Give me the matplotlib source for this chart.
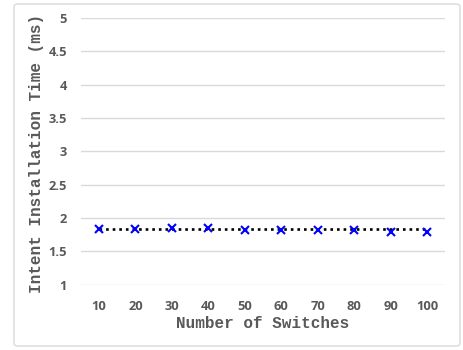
import matplotlib
matplotlib.use("Agg")
import matplotlib.pyplot as plt
from matplotlib.patches import FancyBboxPatch
import numpy as np

# switch counts and measured intent installation time (ms)
switches = ['10', '20', '30', '40', '50', '60', '70', '80', '90', '100']
install_ms = [1.84, 1.84, 1.855, 1.855, 1.825, 1.825, 1.825, 1.825, 1.795, 1.795]
y_ticks = [1, 1.5, 2, 2.5, 3, 3.5, 4, 4.5, 5]

fig = plt.figure(figsize=(4.63, 3.5), dpi=100)
fig.patch.set_facecolor('white')

# light rounded frame around the whole chart
frame = FancyBboxPatch((14 / 463, 4 / 350), 446 / 463, 342 / 350,
                       boxstyle='round,pad=0,rounding_size=0.008',
                       transform=fig.transFigure, facecolor='none',
                       edgecolor='#d9d9d9', linewidth=1.0, zorder=-5)
fig.patches.append(frame)

ax = fig.add_axes([80.7 / 463, 1 - 284.5 / 350, 364.5 / 463, 266.5 / 350])
ax.set_facecolor('none')
ax.set_zorder(2)

x = np.arange(len(switches))
ax.plot(x, install_ms, linestyle='none', marker='x', color='#0000ff',
        markersize=6, markeredgewidth=1.5, zorder=3)

# flat trend line at the mean time
mean_ms = np.mean(install_ms)
ax.plot([x[0], x[-1]], [mean_ms, mean_ms], linestyle=(0, (1, 1.5)),
        color='black', linewidth=1.9, zorder=2)

ax.set_xlim(-0.5, len(switches) - 0.5)
ax.set_ylim(1, 5)
ax.set_yticks(y_ticks)
ax.set_yticklabels([f'{t:g}' for t in y_ticks])
ax.set_xticks(x)
ax.set_xticklabels(switches)

ax.grid(axis='y', color='#d9d9d9', linewidth=1.0)
ax.set_axisbelow(True)
for s in ax.spines.values():
    s.set_visible(False)
ax.tick_params(length=0, colors='#595959')
for lab in ax.get_xticklabels() + ax.get_yticklabels():
    lab.set_fontfamily('Open Sans')
    lab.set_fontweight('bold')
    lab.set_fontsize(9.3)
ax.tick_params(axis='x', pad=11)
ax.tick_params(axis='y', pad=10)

ax.set_xlabel('Number of Switches', fontfamily='Liberation Mono',
              fontweight='bold', fontsize=11.5, color='#595959', labelpad=2)
ax.set_ylabel('Intent Installation Time (ms)', fontfamily='Liberation Mono',
              fontweight='bold', fontsize=11.5, color='#595959')
ax.yaxis.label.set_va('center')
ax.yaxis.set_label_coords((37 - 80.7) / 364.5, 0.49)

fig.savefig('out.png', dpi=100, facecolor='white')
